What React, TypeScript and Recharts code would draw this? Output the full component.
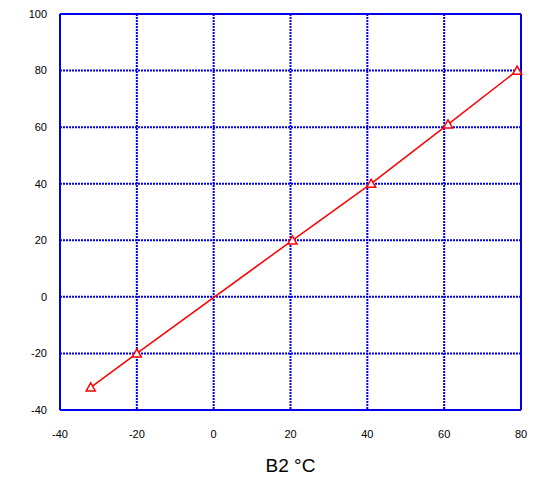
import React from 'react';
import { LineChart, Line, XAxis, YAxis, CartesianGrid, ReferenceLine } from 'recharts';

// 측정값 (B2 °C 기준 vs 판독값)
const b2Temps = [-32, -20, 20.5, 41, 61, 79];
const readings = [-32, -20, 20, 40, 61, 80];

const xTicks = [-40, -20, 0, 20, 40, 60, 80];
const yTicks = [-40, -20, 0, 20, 40, 60, 80, 100];

const BLUE = '#0000ee';
const RED = '#ff0000';
const FONT = '"Liberation Sans", Arial, sans-serif';

const data = b2Temps.map((x, i) => ({ x, y: readings[i] }));

// 속이 빈 삼각형 마커
function TriangleDot(props: any) {
  const { cx, cy } = props;
  if (cx == null || cy == null) return null;
  const s = 4.5;
  return (
    <path
      d={`M${cx},${cy - s} L${cx + s},${cy + s * 0.8} L${cx - s},${cy + s * 0.8} Z`}
      fill="#fff"
      stroke={RED}
      strokeWidth={1.5}
    />
  );
}

export default function App() {
  return (
    <div style={{ position: 'absolute', left: 0, top: 0, background: '#fff' }}>
      <LineChart
        width={541}
        height={480}
        data={data}
        margin={{ top: 14, right: 20, bottom: 0, left: 0 }}
      >
        <CartesianGrid stroke={BLUE} strokeWidth={2} strokeDasharray="2 1" />
        <XAxis
          type="number"
          dataKey="x"
          domain={[-40, 80]}
          ticks={xTicks}
          height={70}
          axisLine={false}
          tickLine={false}
          tickSize={6}
          tickMargin={14}
          tick={{ fill: '#000', fontSize: 11, fontFamily: FONT }}
          label={{ value: 'B2 °C', position: 'insideBottom', offset: 8, fill: '#000', fontSize: 19, fontFamily: FONT }}
        />
        <YAxis
          type="number"
          domain={[-40, 100]}
          ticks={yTicks}
          width={60}
          axisLine={false}
          tickLine={false}
          tickSize={6}
          tickMargin={7}
          tick={{ fill: '#000', fontSize: 11, fontFamily: FONT }}
        />
        <ReferenceLine x={-40} stroke={BLUE} strokeWidth={2} />
        <ReferenceLine x={80} stroke={BLUE} strokeWidth={2} />
        <ReferenceLine y={-40} stroke={BLUE} strokeWidth={2} />
        <ReferenceLine y={100} stroke={BLUE} strokeWidth={2} />
        <Line
          type="linear"
          dataKey="y"
          stroke={RED}
          strokeWidth={1.5}
          dot={<TriangleDot />}
          activeDot={false}
          isAnimationActive={false}
        />
      </LineChart>
    </div>
  );
}
